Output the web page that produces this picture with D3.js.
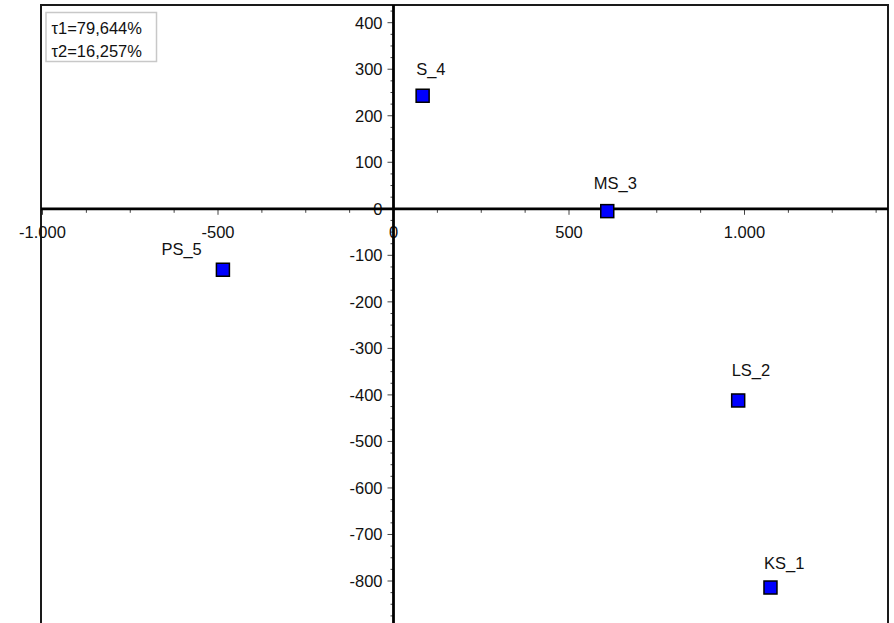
<!DOCTYPE html>
<html>
<head>
<meta charset="utf-8">
<script src="https://cdn.jsdelivr.net/npm/d3@7"></script>
<style>
  html, body { margin: 0; padding: 0; background: #fff; }
  svg { display: block; }
  text { font-family: "Liberation Sans", Arial, sans-serif; }
</style>
</head>
<body>
<svg id="chart" width="894" height="623"></svg>
<script>
// ---- data ----
const names = ["KS_1", "LS_2", "MS_3", "S_4", "PS_5"];
const xValues = [1074, 982, 609, 83, -486];
const yValues = [-814, -412, -5, 243, -131];
const legendLines = ["\u03c41=79,644%", "\u03c42=16,257%"];
const xTickValues = [-1000, -500, 0, 500, 1000];
const yTickValues = [-800, -700, -600, -500, -400, -300, -200, -100, 0, 100, 200, 300, 400];

// ---- layout ----
const W = 894, H = 623;
const frame = { left: 41, top: 5, right: 888, bottom: 640 };
const FS = 16.5;
// label placement relative to marker (dx from marker left edge, dy from centre baseline)
const labelPlacement = {
  "KS_1": { dx: 0, dy: -19 },
  "LS_2": { dx: 0, dy: -24 },
  "MS_3": { dx: -7, dy: -22 },
  "S_4":  { dx: 0, dy: -21 },
  "PS_5": { dx: -55, dy: -15 }
};

const svg = d3.select("#chart");

const x = d3.scaleLinear().domain([-1000, 1000]).range([42.5, 744.5]);
const y = d3.scaleLinear().domain([-800, 400]).range([581, 22.7]);

const fmt = v => d3.format(",")(v).replace(/,/g, ".").replace(/\u2212/g, "-");

const x0 = x(0), y0 = y(0);

// frame
svg.append("rect")
  .attr("x", frame.left).attr("y", frame.top)
  .attr("width", frame.right - frame.left).attr("height", frame.bottom - frame.top)
  .attr("fill", "#fff").attr("stroke", "#1a1a1a").attr("stroke-width", 2);

// minor ticks
const xMin = x.invert(frame.left), xMax = x.invert(frame.right);
const yMin = y.invert(frame.bottom), yMax = y.invert(frame.top);
const xMinor = d3.range(Math.ceil(xMin / 125) * 125, xMax, 125);
const yMinor = d3.range(Math.ceil(yMin / 25) * 25, yMax, 25);

svg.append("g").selectAll("line").data(xMinor).join("line")
  .attr("x1", d => x(d)).attr("x2", d => x(d))
  .attr("y1", y0).attr("y2", d => y0 + (d % 500 === 0 ? 6 : 4))
  .attr("stroke", "#444").attr("stroke-width", 1);

svg.append("g").selectAll("line").data(yMinor).join("line")
  .attr("y1", d => y(d)).attr("y2", d => y(d))
  .attr("x1", x0).attr("x2", d => x0 - (d % 100 === 0 ? 6 : 3))
  .attr("stroke", "#444").attr("stroke-width", 1);

// x tick labels
svg.append("g").selectAll("text").data(xTickValues).join("text")
  .attr("x", d => x(d)).attr("y", y0 + 29.5)
  .attr("text-anchor", "middle")
  .attr("font-size", FS).attr("fill", "#111")
  .text(fmt);

// y tick labels
svg.append("g").selectAll("text").data(yTickValues).join("text")
  .attr("x", x0 - 11).attr("y", d => y(d) + 6)
  .attr("text-anchor", "end")
  .attr("font-size", FS).attr("fill", "#111")
  .text(fmt);

// axes lines
svg.append("line")
  .attr("x1", frame.left).attr("x2", frame.right)
  .attr("y1", y0).attr("y2", y0)
  .attr("stroke", "#000").attr("stroke-width", 2.8);
svg.append("line")
  .attr("x1", x0).attr("x2", x0)
  .attr("y1", frame.top).attr("y2", frame.bottom)
  .attr("stroke", "#000").attr("stroke-width", 2.8);

// points
const pts = names.map((n, i) => ({ name: n, x: xValues[i], y: yValues[i] }));
const S = 13;
const g = svg.append("g");
g.selectAll("rect").data(pts).join("rect")
  .attr("x", d => x(d.x) - S / 2).attr("y", d => y(d.y) - S / 2)
  .attr("width", S).attr("height", S)
  .attr("fill", "#0000ff").attr("stroke", "#000").attr("stroke-width", 1.5);

g.selectAll("text").data(pts).join("text")
  .attr("x", d => x(d.x) - S / 2 + labelPlacement[d.name].dx)
  .attr("y", d => y(d.y) + labelPlacement[d.name].dy)
  .attr("font-size", FS).attr("fill", "#111")
  .text(d => d.name);

// legend box
const lg = svg.append("g");
lg.append("rect")
  .attr("x", 46).attr("y", 12.5).attr("width", 110.5).attr("height", 49)
  .attr("fill", "#fff").attr("stroke", "#c8c8c8").attr("stroke-width", 1.5);
lg.selectAll("text").data(legendLines).join("text")
  .attr("x", 51.5).attr("y", (d, i) => 34 + i * 22.5)
  .attr("font-size", FS).attr("fill", "#111")
  .text(d => d);
</script>
</body>
</html>
